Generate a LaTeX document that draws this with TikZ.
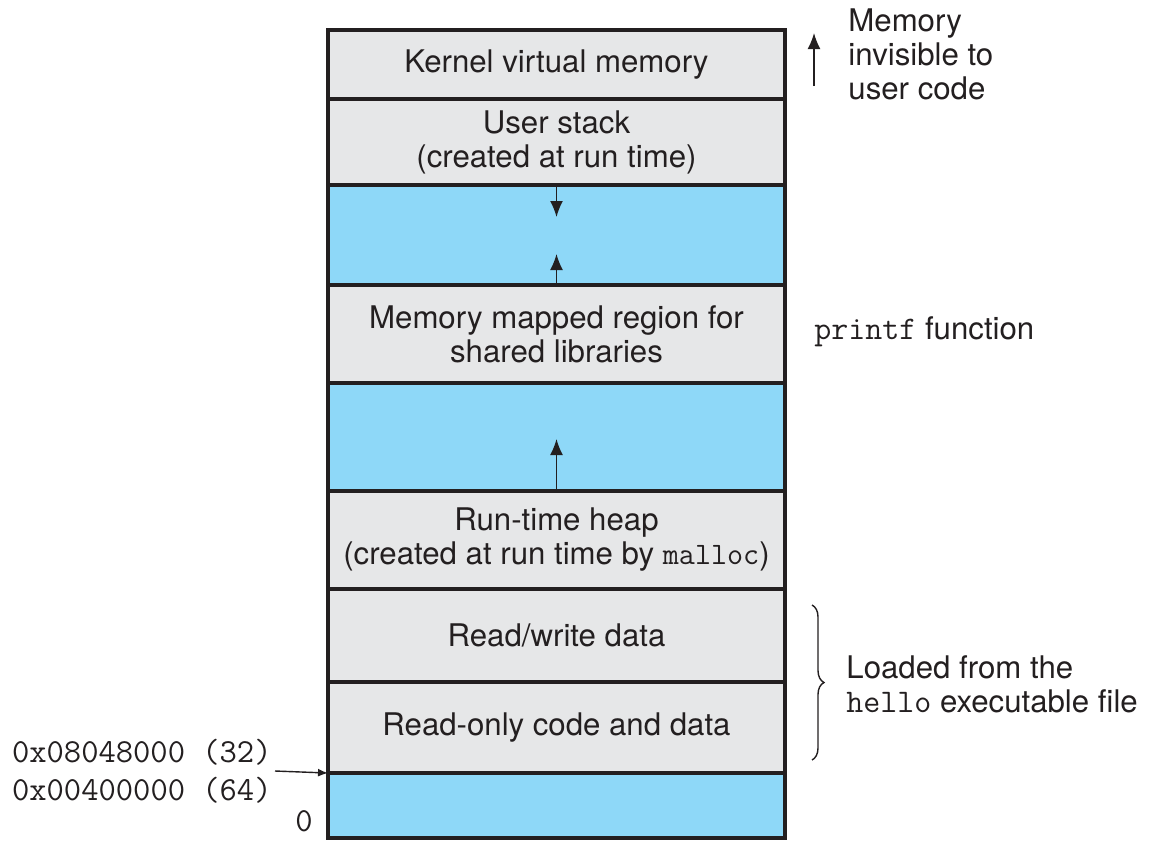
\documentclass[tikz,border=0pt]{standalone}
\usepackage{fontspec}
\setmainfont{TeX Gyre Heros}
\usetikzlibrary{positioning,arrows.meta,decorations.pathreplacing}
\definecolor{ink}{HTML}{231F20}
\definecolor{segfill}{HTML}{E6E7E8}
\definecolor{gapfill}{HTML}{8ED8F8}
\tikzset{
  seg/.style={draw=ink, line width=2bp, fill=segfill, minimum width=228.5bp,
    outer sep=0pt, inner sep=0pt, align=center, text=ink,
    font=\fontsize{15.6bp}{17bp}\selectfont},
  gap/.style={seg, fill=gapfill},
  growth/.style={ink, line width=0.8bp, -{Latex[length=8bp,width=6.5bp]}},
  note/.style={text=ink, inner sep=0pt, align=left,
    font=\fontsize{15.6bp}{17bp}\selectfont},
  addr/.style={text=ink, inner sep=0pt, align=right,
    font=\fontsize{16.8bp}{19bp}\selectfont\ttfamily}
}
\begin{document}
\begin{tikzpicture}[x=0.5bp,y=-0.5bp]
  \useasboundingbox (0,0) rectangle (1151,840);
  % address space, top to bottom
  \node[seg, minimum height=34.5bp, anchor=north] (kern) at (556.5,30) {Kernel virtual memory};
  \node[seg, minimum height=43bp, below=0pt of kern] (stack) {User stack\\(created at run time)};
  \node[gap, minimum height=50bp, below=0pt of stack] (gap1) {};
  \node[seg, minimum height=49bp, below=0pt of gap1] (shlib) {Memory mapped region for\\shared libraries};
  \node[gap, minimum height=54bp, below=0pt of shlib] (gap2) {};
  \node[seg, minimum height=49bp, below=0pt of gap2] (heap) {Run-time heap\\(created at run time by {\ttfamily malloc})};
  \node[seg, minimum height=46.5bp, below=0pt of heap] (rw) {Read/write data};
  \node[seg, minimum height=45.5bp, below=0pt of rw] (ro) {Read-only code and data};
  \node[gap, minimum height=32.5bp, below=0pt of ro] (low) {};
  % growth arrows
  \draw[growth] (stack.south) -- ++(0,32);
  \draw[growth] (gap1.south) -- ++(0,-31);
  \draw[growth] (gap2.south) -- ++(0,-52);
  % left labels
  \node[addr, anchor=east] (start) at (272,771) {0x08048000 (32)\\0x00400000 (64)};
  \draw[ink, line width=0.7bp, -{Latex[length=5bp,width=4bp]}] (start.east) ++(3,0) -- (ro.south west);
  \node[addr, anchor=east] (zero) at (313,821) {0};
  % right labels
  \coordinate (invbot) at (814,86);
  \coordinate (invtop) at (814,33);
  \draw[growth] (invbot) -- (invtop);
  \node[note, anchor=west] (inv) at (848,54) {Memory\\invisible to\\user code};
  \node[note, anchor=west] (printf) at (814,332) {{\fontsize{16.5bp}{17bp}\ttfamily printf} function};
  \coordinate (btop) at (812,605);
  \coordinate (bbot) at (812,760);
  \draw[ink, line width=0.7bp, decorate, decoration={brace, amplitude=6bp}] (btop) -- (bbot);
  \node[note, anchor=west] (loaded) at (846,684) {Loaded from the\\{\fontsize{16.5bp}{17bp}\ttfamily hello} executable file};
\end{tikzpicture}
\end{document}
